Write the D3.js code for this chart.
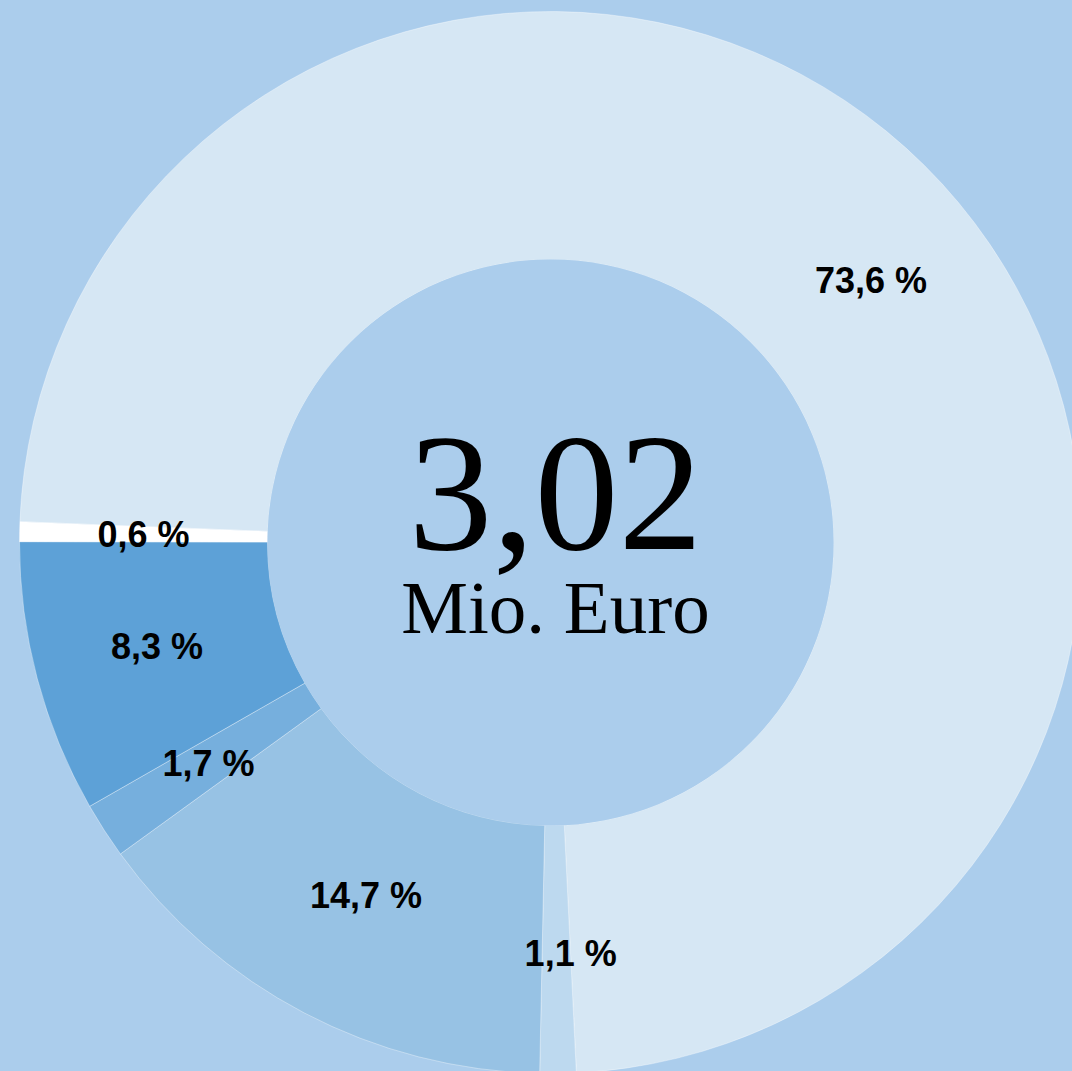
<!DOCTYPE html>
<html>
<head>
<meta charset="utf-8">
<script src="https://cdn.jsdelivr.net/npm/d3@7"></script>
<style>
  html, body { margin: 0; padding: 0; background: #abcdec; overflow: hidden; }
  svg { display: block; }
</style>
</head>
<body>
<svg id="chart" width="1072" height="1071"></svg>
<script>
// Data (clockwise order, starting with the large slice)
const categories = ["A", "B", "C", "D", "E", "F"];
const shares = [73.6, 1.1, 14.7, 1.7, 8.3, 0.6];
const labels = ["73,6 %", "1,1 %", "14,7 %", "1,7 %", "8,3 %", "0,6 %"];
const colors = ["#d6e7f4", "#bdd9ef", "#97c2e4", "#76afdd", "#5da1d7", "#ffffff"];
const centerValue = "3,02";
const centerUnit = "Mio. Euro";

const W = 1072, H = 1071;
const cx = 550.5, cy = 542.5;
const rOuter = 531, rInner = 283;
const deg = Math.PI / 180;
const start = 272.25 * deg;

const svg = d3.select("#chart");
svg.append("rect").attr("width", W).attr("height", H).attr("fill", "#abcdec");

const pie = d3.pie().sort(null).value(d => d.v)
  .startAngle(start).endAngle(start + 2 * Math.PI);
const data = categories.map((c, i) => ({ c, v: shares[i], label: labels[i], color: colors[i] }));
const arcs = pie(data);

const arc = d3.arc().innerRadius(rInner).outerRadius(rOuter);
const g = svg.append("g").attr("transform", `translate(${cx},${cy})`);

g.selectAll("path.slice").data(arcs).join("path")
  .attr("class", "slice")
  .attr("d", arc)
  .attr("fill", d => d.data.color)
  .attr("stroke", "rgba(255,255,255,0.35)")
  .attr("stroke-width", 1);

// inner disc
g.append("circle").attr("r", rInner).attr("fill", "#abcdec");

// labels (placed at arc centroid, with small nudges)
const angleNudge = { 0: 6, 1: -2 };
const radiusNudge = { 0: 7, 1: 4, 2: -9 };
g.selectAll("text.lbl").data(arcs).join("text")
  .attr("class", "lbl")
  .attr("transform", (d, i) => {
    const a = (d.startAngle + d.endAngle) / 2 + (angleNudge[i] || 0) * deg;
    const r = (rInner + rOuter) / 2 + (radiusNudge[i] || 0);
    return `translate(${r * Math.sin(a)},${-r * Math.cos(a)})`;
  })
  .attr("text-anchor", "middle")
  .attr("dy", "0.35em")
  .attr("font-family", "'Liberation Sans', Arial, sans-serif")
  .attr("font-weight", "bold")
  .attr("font-size", 36)
  .attr("fill", "#000")
  .text(d => d.data.label);

// center text
g.append("text")
  .attr("x", 5).attr("y", 6)
  .attr("text-anchor", "middle")
  .attr("font-family", "'Liberation Serif', 'Times New Roman', serif")
  .attr("font-size", 168)
  .attr("fill", "#000")
  .text(centerValue);
g.append("text")
  .attr("x", 5).attr("y", 90)
  .attr("text-anchor", "middle")
  .attr("font-family", "'Liberation Serif', 'Times New Roman', serif")
  .attr("font-size", 75)
  .attr("fill", "#000")
  .text(centerUnit);
</script>
</body>
</html>
